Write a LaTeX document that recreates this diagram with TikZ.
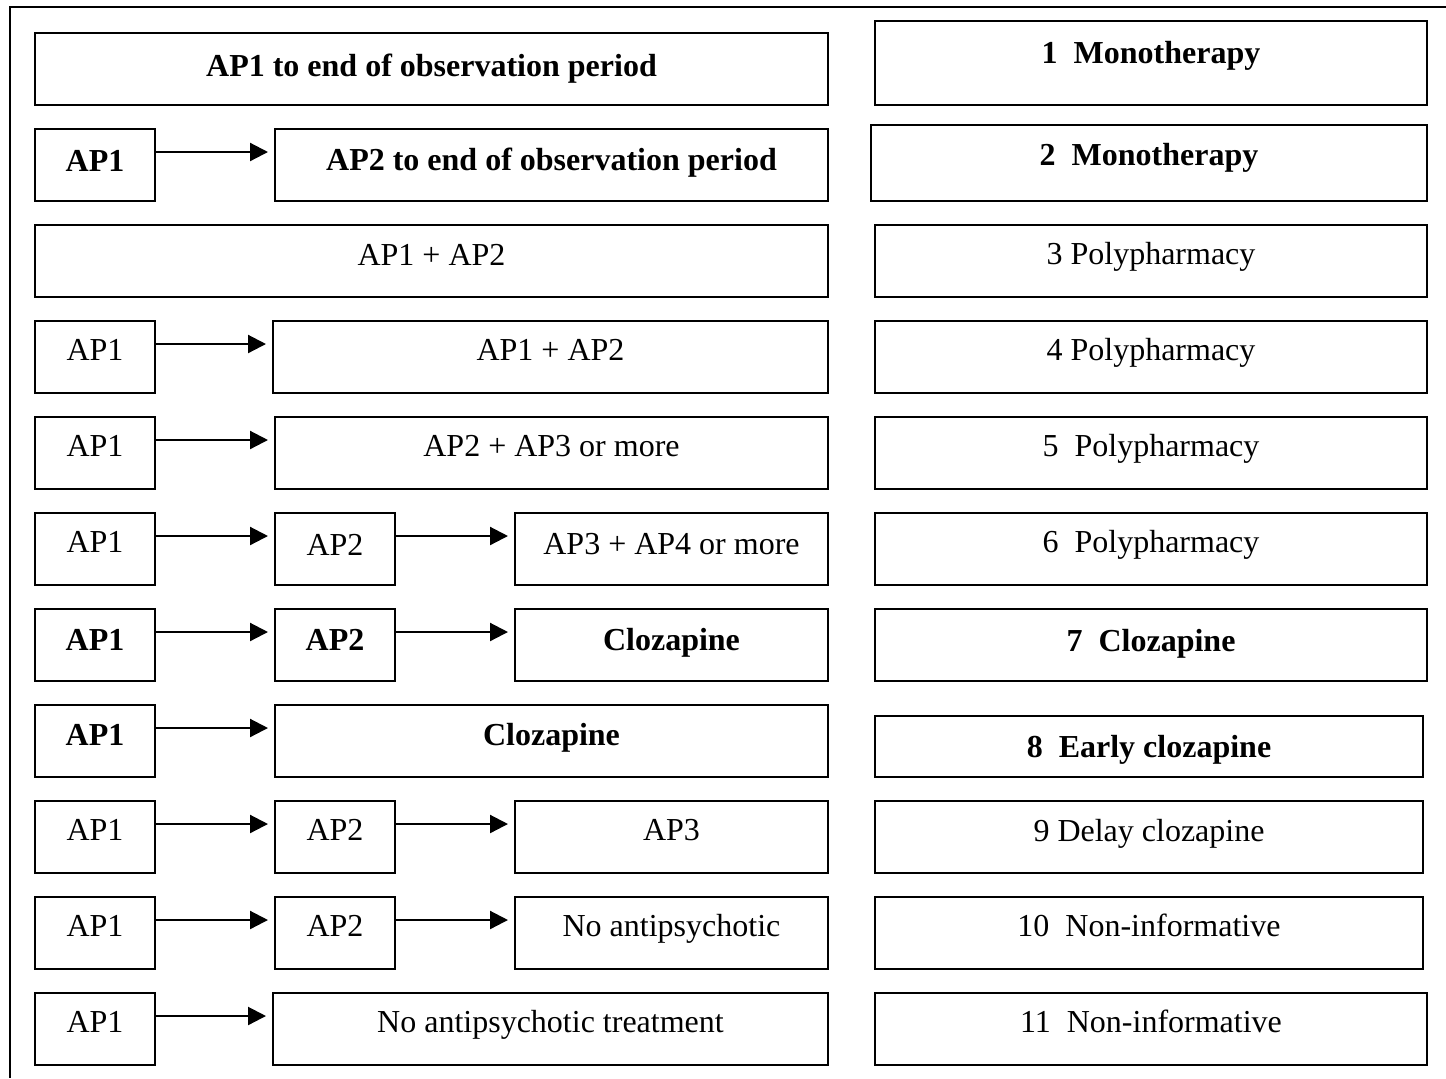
\documentclass[tikz,border=0pt]{standalone}
\usepackage{fontspec}
\setmainfont{Liberation Serif}
\usetikzlibrary{arrows.meta}
\tikzset{
  box/.style={draw, line width=1pt, rectangle, inner sep=0pt,
    font=\fontsize{16}{19}\selectfont, text height=11pt, text depth=4pt},
  arr/.style={draw, line width=1.1pt, -{Triangle[length=9pt,width=9pt]}, shorten >=3pt}
}
\newcommand\bx[7]{\node[box, minimum width={(#4-#2)*0.5pt}, minimum height={(#5-#3)*0.5pt}] (#1) at ({(#2+#4)/2},{(#3+#5)/2}) {\raisebox{#6pt}{#7}};}
\newcommand\arw[2]{\draw[arr] ([yshift=-12pt]#1.north east) -- ([yshift=-12pt]#1.north east -| #2.west);}
\begin{document}
\begin{tikzpicture}[x=0.5pt,y=-0.5pt]
\useasboundingbox (0,0) rectangle (1446,1078);
\coordinate (fa) at (1446,7);
\coordinate (fb) at (10,7);
\coordinate (fc) at (10,1078);
\draw[line width=1pt] (fa) -- (fb) -- (fc);
% left column
\bx{l1}{35}{33}{828}{105}{0}{\textbf{AP1 to end of observation period}}
\bx{l2a}{35}{129}{155}{201}{0.4}{\textbf{AP1}}
\bx{l2b}{275}{129}{828}{201}{0.6}{\textbf{AP2 to end of observation period}}
\bx{l3}{35}{225}{828}{297}{1.2}{AP1 + AP2}
\bx{l4a}{35}{321}{155}{393}{1.6}{AP1}
\bx{l4b}{273}{321}{828}{393}{1.6}{AP1 + AP2}
\bx{l5a}{35}{417}{155}{489}{1.6}{AP1}
\bx{l5b}{275}{417}{828}{489}{1.6}{AP2 + AP3 or more}
\bx{l6a}{35}{513}{155}{585}{2.0}{AP1}
\bx{l6b}{275}{513}{395}{585}{0.4}{AP2}
\bx{l6c}{515}{513}{828}{585}{1.0}{AP3 + AP4 or more}
\bx{l7a}{35}{609}{155}{681}{0.8}{\textbf{AP1}}
\bx{l7b}{275}{609}{395}{681}{0.8}{\textbf{AP2}}
\bx{l7c}{515}{609}{828}{681}{1.0}{\textbf{Clozapine}}
\bx{l8a}{35}{705}{155}{777}{1.4}{\textbf{AP1}}
\bx{l8b}{275}{705}{828}{777}{1.4}{\textbf{Clozapine}}
\bx{l9a}{35}{801}{155}{873}{1.6}{AP1}
\bx{l9b}{275}{801}{395}{873}{1.6}{AP2}
\bx{l9c}{515}{801}{828}{873}{1.6}{AP3}
\bx{l10a}{35}{897}{155}{969}{1.6}{AP1}
\bx{l10b}{275}{897}{395}{969}{1.6}{AP2}
\bx{l10c}{515}{897}{828}{969}{1.6}{No antipsychotic}
\bx{l11a}{35}{993}{155}{1065}{1.6}{AP1}
\bx{l11b}{273}{993}{828}{1065}{1.6}{No antipsychotic treatment}
% right column
\bx{r1}{875}{21}{1427}{105}{3.2}{\textbf{1~~Monotherapy}}
\bx{r2}{871}{125}{1427}{201}{2.2}{\textbf{2~~Monotherapy}}
\bx{r3}{875}{225}{1427}{297}{1.6}{3 Polypharmacy}
\bx{r4}{875}{321}{1427}{393}{1.6}{4 Polypharmacy}
\bx{r5}{875}{417}{1427}{489}{1.6}{5~~Polypharmacy}
\bx{r6}{875}{513}{1427}{585}{1.6}{6~~Polypharmacy}
\bx{r7}{875}{609}{1427}{681}{0.2}{\textbf{7~~Clozapine}}
\bx{r8}{875}{716}{1423}{777}{-1.8}{\textbf{8~~Early clozapine}}
\bx{r9}{875}{801}{1423}{873}{1.2}{9 Delay clozapine}
\bx{r10}{875}{897}{1423}{969}{1.6}{10~~Non-informative}
\bx{r11}{875}{993}{1427}{1065}{1.6}{11~~Non-informative}
% arrows
\arw{l2a}{l2b}
\arw{l4a}{l4b}
\arw{l5a}{l5b}
\arw{l6a}{l6b}
\arw{l6b}{l6c}
\arw{l7a}{l7b}
\arw{l7b}{l7c}
\arw{l8a}{l8b}
\arw{l9a}{l9b}
\arw{l9b}{l9c}
\arw{l10a}{l10b}
\arw{l10b}{l10c}
\arw{l11a}{l11b}
\end{tikzpicture}
\end{document}
